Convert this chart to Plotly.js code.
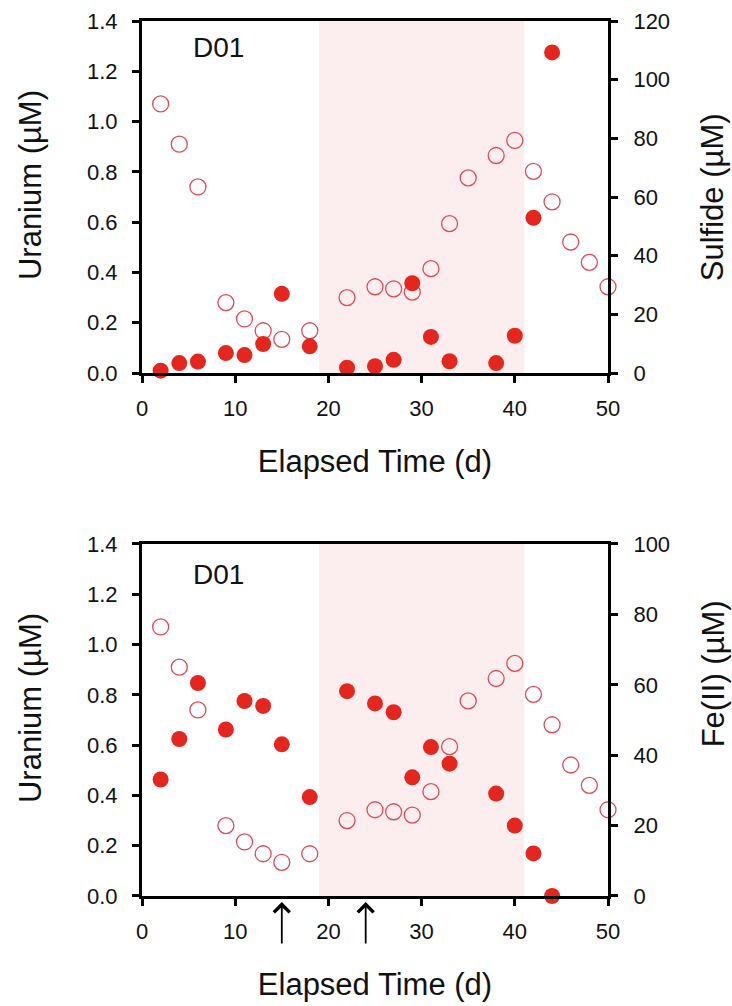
<!DOCTYPE html>
<html>
<head>
<meta charset="utf-8">
<script src="https://cdn.plot.ly/plotly-3.0.1.min.js"></script>
<style>html,body{margin:0;padding:0;background:#fff;}#chart{width:732px;height:1006px;}</style>
</head>
<body>
<div id="chart"></div>
<script>
// Uranium (open circles), same in both panels
const uDays = [2,4,6,9,11,13,15,18,22,25,27,29,31,33,35,38,40,42,44,46,48,50];
const uranium = [1.07,0.91,0.74,0.28,0.215,0.168,0.134,0.168,0.30,0.343,0.335,0.322,0.415,0.594,0.776,0.865,0.925,0.802,0.681,0.521,0.44,0.343];
// Sulfide (filled, top panel, right axis)
const sDays = [2,4,6,9,11,13,15,18,22,25,27,29,31,33,38,40,42,44];
const sulfide = [0.8,3.4,3.9,6.8,6.1,9.9,27,9.1,1.8,2.3,4.5,30.6,12.3,4.0,3.4,12.7,52.9,109.3];
// Fe(II) (filled, bottom panel, right axis)
const fDays = [2,4,6,9,11,13,15,18,22,25,27,29,31,33,38,40,42,44];
const fe = [33.1,44.6,60.5,47.3,55.4,54.0,43.1,28.1,58.2,54.7,52.2,33.7,42.3,37.6,29.1,20.0,12.1,0];
// Shaded phase and arrow days
const phase = [19, 41];
const arrowDays = [15, 24];
const panelLabel = 'D01';
const xTitle = 'Elapsed Time (d)';
const uTitle = 'Uranium (µM)';
const sTitle = 'Sulfide (µM)';
const fTitle = 'Fe(II) (µM)';

const FONT = '"Liberation Sans", Arial, Helvetica, sans-serif';
const RED = '#e5261f';
const PINK = '#e04a58';

const openMarker = {symbol:'circle-open', size:16, color:PINK, line:{color:PINK, width:1.3}};
const fillMarker = {symbol:'circle', size:16, color:RED, line:{width:0}};

const traces = [
  {x:uDays, y:uranium, xaxis:'x', yaxis:'y', type:'scatter', mode:'markers', marker:openMarker, cliponaxis:false, name:'Uranium'},
  {x:sDays, y:sulfide, xaxis:'x', yaxis:'y2', type:'scatter', mode:'markers', marker:fillMarker, cliponaxis:false, name:'Sulfide'},
  {x:uDays, y:uranium, xaxis:'x2', yaxis:'y3', type:'scatter', mode:'markers', marker:openMarker, cliponaxis:false, name:'Uranium'},
  {x:fDays, y:fe, xaxis:'x2', yaxis:'y4', type:'scatter', mode:'markers', marker:fillMarker, cliponaxis:false, name:'Fe(II)'}
];

const tickFont = {family:FONT, size:22, color:'#111'};
const titleFont = {family:FONT, size:31, color:'#111'};

function xax(anchor){
  return {domain:[0,1], anchor:anchor, range:[0,50], tickvals:[0,10,20,30,40,50],
    showline:true, mirror:true, linewidth:3, linecolor:'#000', ticks:'outside', ticklen:7, tickwidth:3, tickcolor:'#000',
    showgrid:false, zeroline:false, tickfont:tickFont, ticklabelstandoff:7,
    title:{text:xTitle, font:titleFont, standoff:30}};
}
function yl(dom, anchor){
  return {domain:dom, anchor:anchor, range:[0,1.4], dtick:0.2, tick0:0, tickformat:'.1f',
    showline:true, linewidth:3, linecolor:'#000', ticks:'outside', ticklen:7, tickwidth:3, tickcolor:'#000',
    showgrid:false, zeroline:false, tickfont:tickFont, ticklabelstandoff:10};
}
function yr(over, anchor, max){
  return {overlaying:over, anchor:anchor, side:'right', range:[0,max], dtick:20, tick0:0,
    showline:true, linewidth:3, linecolor:'#000', ticks:'outside', ticklen:7, tickwidth:3, tickcolor:'#000',
    showgrid:false, zeroline:false, tickfont:tickFont, ticklabelstandoff:11};
}

const shapes = [
  {type:'rect', xref:'x', yref:'y domain', x0:phase[0], x1:phase[1], y0:0, y1:1, fillcolor:'rgba(240,170,170,0.2)', line:{width:0}, layer:'below'},
  {type:'rect', xref:'x2', yref:'y3 domain', x0:phase[0], x1:phase[1], y0:0, y1:1, fillcolor:'rgba(240,170,170,0.2)', line:{width:0}, layer:'below'}
];

function ytitle(text, x, y){
  return {xref:'paper', yref:'paper', x:x, y:y, xanchor:'center', yanchor:'middle', textangle:-90,
    text:text, showarrow:false, font:titleFont};
}

const annotations = [
  {xref:'x domain', yref:'y domain', x:0.165, y:0.925, xanchor:'center', yanchor:'middle', text:panelLabel, showarrow:false, font:{family:FONT, size:28, color:'#111'}},
  {xref:'x2 domain', yref:'y3 domain', x:0.165, y:0.912, xanchor:'center', yanchor:'middle', text:panelLabel, showarrow:false, font:{family:FONT, size:28, color:'#111'}},
  ytitle(uTitle, -0.238, 0.8126),
  ytitle(sTitle, 1.226, 0.799),
  ytitle(uTitle, -0.238, 0.2149),
  ytitle(fTitle, 1.226, 0.2537)
];
arrowDays.forEach(d => annotations.push({xref:'x2', yref:'y3 domain', x:d, y:-0.017, ax:0, ay:43, showarrow:true,
  arrowhead:4, arrowsize:1.7, arrowwidth:1.8, arrowcolor:'#000', text:''}));

const layout = {
  width:732, height:1006,
  margin:{l:142, r:124, t:21, b:110},
  paper_bgcolor:'#fff', plot_bgcolor:'rgba(0,0,0,0)',
  showlegend:false,
  font:{family:FONT},
  xaxis: xax('y'),
  yaxis: yl([0.5977,1], 'x'),
  yaxis2: yr('y', 'x', 120),
  xaxis2: xax('y3'),
  yaxis3: yl([0,0.4023], 'x2'),
  yaxis4: yr('y3', 'x2', 100),
  shapes: shapes,
  annotations: annotations
};

Plotly.newPlot('chart', traces, layout, {displayModeBar:false, staticPlot:true});
</script>
</body>
</html>
